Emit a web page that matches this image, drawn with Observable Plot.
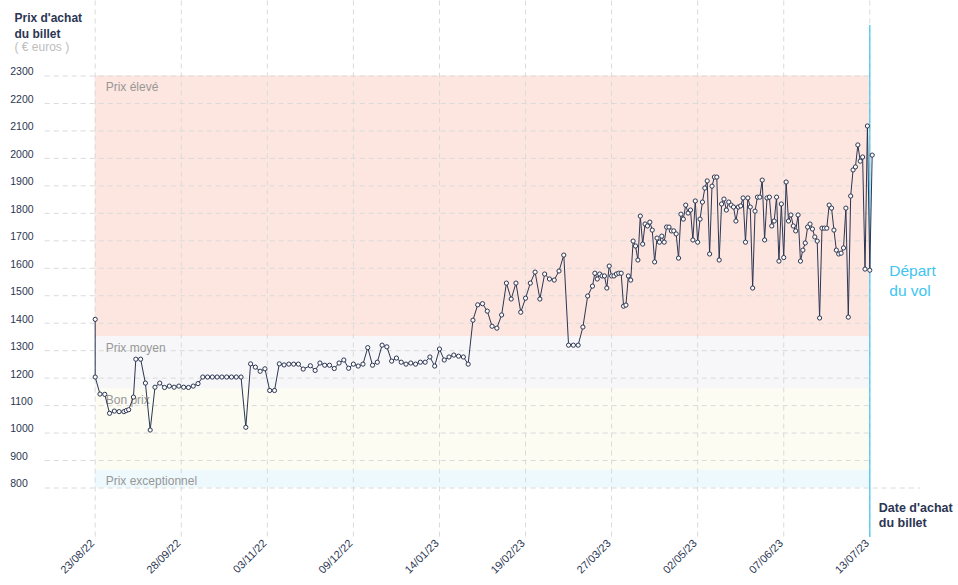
<!DOCTYPE html>
<html><head><meta charset="utf-8">
<script src="https://cdn.jsdelivr.net/npm/d3@7"></script>
<script src="https://cdn.jsdelivr.net/npm/@observablehq/plot@0.6"></script>
<style>body{margin:0;background:#fff;} svg{display:block;}</style>
</head><body><div id="chart"></div>
<script>
// Dates d'achat (achats relevés) et prix observés
const dates = [
"2022-08-23","2022-08-23","2022-08-25","2022-08-27","2022-08-29","2022-08-31",
"2022-09-02","2022-09-04","2022-09-05","2022-09-06","2022-09-08","2022-09-09","2022-09-11","2022-09-13","2022-09-15","2022-09-17","2022-09-19","2022-09-21","2022-09-23","2022-09-25","2022-09-27","2022-09-29",
"2022-10-01","2022-10-03","2022-10-05","2022-10-07","2022-10-09","2022-10-11","2022-10-13","2022-10-15","2022-10-17","2022-10-19","2022-10-21","2022-10-23","2022-10-25","2022-10-27","2022-10-29","2022-10-31",
"2022-11-02","2022-11-04","2022-11-06","2022-11-08","2022-11-10","2022-11-12","2022-11-14","2022-11-16","2022-11-18",
"2022-11-21","2022-11-23","2022-11-25","2022-11-27","2022-11-29",
"2022-12-01","2022-12-03","2022-12-05","2022-12-07","2022-12-09","2022-12-11","2022-12-13","2022-12-15","2022-12-17","2022-12-19","2022-12-21","2022-12-23","2022-12-25","2022-12-27","2022-12-29","2022-12-31",
"2023-01-02","2023-01-04","2023-01-06","2023-01-08","2023-01-10","2023-01-12","2023-01-14","2023-01-16","2023-01-18","2023-01-20","2023-01-22","2023-01-24","2023-01-26","2023-01-28","2023-01-30",
"2023-02-01","2023-02-03","2023-02-05","2023-02-07","2023-02-09","2023-02-11","2023-02-13","2023-02-15","2023-02-17","2023-02-19","2023-02-21","2023-02-23","2023-02-25","2023-02-27",
"2023-03-01","2023-03-03","2023-03-05","2023-03-07","2023-03-09","2023-03-11","2023-03-13","2023-03-15","2023-03-17","2023-03-19",
"2023-03-20","2023-03-21","2023-03-22","2023-03-23","2023-03-24","2023-03-25","2023-03-26","2023-03-27","2023-03-28","2023-03-29","2023-03-30","2023-03-31",
"2023-04-01","2023-04-02","2023-04-03","2023-04-04","2023-04-05","2023-04-06","2023-04-07","2023-04-08","2023-04-09","2023-04-10","2023-04-11","2023-04-12","2023-04-13","2023-04-14","2023-04-15","2023-04-16","2023-04-17","2023-04-18","2023-04-19","2023-04-20","2023-04-21","2023-04-22","2023-04-23","2023-04-24","2023-04-25","2023-04-26","2023-04-27","2023-04-28","2023-04-29","2023-04-30",
"2023-05-01","2023-05-02","2023-05-03","2023-05-04","2023-05-05","2023-05-06","2023-05-07","2023-05-08","2023-05-09","2023-05-10","2023-05-11","2023-05-12","2023-05-13","2023-05-14","2023-05-15","2023-05-16","2023-05-17","2023-05-18","2023-05-19","2023-05-20","2023-05-21","2023-05-22","2023-05-23","2023-05-24","2023-05-25","2023-05-26","2023-05-27","2023-05-28","2023-05-29","2023-05-30","2023-05-31",
"2023-06-01","2023-06-02","2023-06-03","2023-06-04","2023-06-05","2023-06-06","2023-06-07","2023-06-08","2023-06-09","2023-06-10","2023-06-11","2023-06-12","2023-06-13","2023-06-14","2023-06-15","2023-06-16","2023-06-17","2023-06-18","2023-06-19","2023-06-20","2023-06-21","2023-06-22","2023-06-23","2023-06-24","2023-06-25","2023-06-26","2023-06-27","2023-06-28","2023-06-29","2023-06-30",
"2023-07-01","2023-07-02","2023-07-03","2023-07-04","2023-07-05","2023-07-06","2023-07-07","2023-07-08","2023-07-09","2023-07-10","2023-07-11","2023-07-12","2023-07-13","2023-07-14"
];
const prix = [
1414,1204,1142,1141,1072,1080,
1078,1078,1082,1085,1131,1269,1269,1182,1011,1167,1182,1166,1171,1167,1171,1167,
1166,1171,1180,1204,1204,1204,1204,1204,1204,1204,1204,1204,1021,1252,1240,1225,
1234,1155,1155,1252,1248,1251,1251,1251,1233,
1245,1228,1255,1247,1247,
1235,1255,1266,1236,1251,1244,1251,1311,1247,1258,1320,1314,1262,1273,1258,1251,
1255,1251,1258,1258,1277,1244,1306,1266,1277,1284,1280,1277,1251,1411,1467,
1471,1444,1389,1382,1430,1546,1488,1546,1440,1491,1546,1586,1488,1579,
1561,1557,1590,1648,1320,1320,1320,1386,1499,1535,
1582,1561,1579,1572,1572,1528,1608,1572,1572,1579,1582,1582,
1462,1466,1572,1557,1699,1681,1630,1790,1688,1761,1754,1768,1739,1623,1710,1695,1717,1695,1750,1750,1736,1736,1725,1637,1797,1779,1830,1801,1812,1703,
1845,1695,1779,1841,1892,1918,1652,1899,1932,1932,1630,1834,1852,1812,1841,1830,1823,1772,1823,1827,1856,1695,1856,1823,1528,1808,1859,1859,1921,1703,1856,
1859,1754,1772,1859,1626,1834,1639,1914,1772,1794,1754,1736,1794,1626,1666,1692,1750,1761,1743,1714,1699,1419,1746,1746,1746,1830,1819,1739,1666,1652,
1655,1674,1819,1422,1863,1958,1969,2049,1990,2005,1597,2118,1593,2012
];
const xTicks = ["2022-08-23","2022-09-28","2022-11-03","2022-12-09","2023-01-14","2023-02-19","2023-03-27","2023-05-02","2023-06-07","2023-07-13"];
const yTicks = [800,900,1000,1100,1200,1300,1400,1500,1600,1700,1800,1900,2000,2100,2200,2300];
const bandNames = ["Prix élevé","Prix moyen","Bon prix","Prix exceptionnel"];
const bandLow = [1350,1160,865,800];
const bandHigh = [2300,1350,1160,865];
const bandColors = ["#fde6e0","#f7f7f9","#fcfcf3","#eef9fd"];
const debut = "2022-08-23";
const depart = "2023-07-13";

const parse = d3.utcParse("%Y-%m-%d");
const fmt = d3.utcFormat("%d/%m/%y");
const data = dates.map((d, i) => ({date: parse(d), prix: prix[i]}));
const bands = bandNames.map((n, i) => ({name: n, low: bandLow[i], high: bandHigh[i], color: bandColors[i]}));
const d0 = parse(debut), d1 = parse(depart);
const tickDates = xTicks.map(parse);
const ink = "#2c3652";
const cyan = "#3ec5ef";
const yMin = yTicks[0];

const chart = Plot.plot({
  width: 958, height: 585,
  marginLeft: 94.7, marginRight: 88.7, marginTop: 75.5, marginBottom: 97.5,
  x: {type: "utc", domain: [d0, d1], axis: null},
  y: {domain: [800, 2300], axis: null},
  color: {type: "identity"},
  style: {fontFamily: "'Liberation Sans', Arial, sans-serif", background: "#fff", overflow: "visible"},
  marks: [
    Plot.rect(bands, {x1: () => d0, x2: () => d1, y1: "low", y2: "high", fill: "color"}),
    Plot.ruleY(yTicks.filter(v => v !== yMin), {y: d => d, stroke: "#dadada", strokeDasharray: "5,4", insetLeft: -50}),
    Plot.ruleY([yMin], {y: d => d, stroke: "#dadada", strokeDasharray: "5,4", insetLeft: -50, insetRight: -51}),
    Plot.ruleX(tickDates, {x: d => d, stroke: "#dadada", strokeDasharray: "5,4", insetTop: -75, insetBottom: -49.5}),
    Plot.ruleX([d1], {x: d => d, stroke: cyan, strokeWidth: 1.2, insetTop: -50.5, insetBottom: -49.5}),
    Plot.text(bands, {x: () => d0, y: "high", text: "name", textAnchor: "start", dx: 10.5, dy: 11, fill: "#979797", fontSize: 12}),
    Plot.line(data, {x: "date", y: "prix", stroke: ink, strokeWidth: 1}),
    Plot.dot(data, {x: "date", y: "prix", r: 2.1, fill: "#fff", stroke: ink, strokeWidth: 1}),
    Plot.text(yTicks, {y: d => d, text: d => String(d), frameAnchor: "left", textAnchor: "start", dx: -85, dy: -4, fill: ink, fontSize: 10.5}),
    Plot.text(tickDates, {x: d => d, text: d => fmt(d), frameAnchor: "bottom", rotate: -45, textAnchor: "end", dy: 56, fill: ink, fontSize: 11}),
    Plot.text(["Prix d'achat"], {text: d => d, frameAnchor: "top-left", textAnchor: "start", lineAnchor: "middle", dx: 14 - 94.7, dy: 18 - 75.5, fill: ink, fontSize: 12, fontWeight: "bold"}),
    Plot.text(["du billet"], {text: d => d, frameAnchor: "top-left", textAnchor: "start", lineAnchor: "middle", dx: 14 - 94.7, dy: 34 - 75.5, fill: ink, fontSize: 12, fontWeight: "bold"}),
    Plot.text(["( € euros )"], {text: d => d, frameAnchor: "top-left", textAnchor: "start", lineAnchor: "middle", dx: 14 - 94.7, dy: 47 - 75.5, fill: "#bdbdbd", fontSize: 12}),
    Plot.text(["Date d'achat"], {x: () => d1, text: d => d, frameAnchor: "bottom", textAnchor: "start", lineAnchor: "middle", dx: 9, dy: 19.5, fill: ink, fontSize: 12.5, fontWeight: "bold"}),
    Plot.text(["du billet"], {x: () => d1, text: d => d, frameAnchor: "bottom", textAnchor: "start", lineAnchor: "middle", dx: 9, dy: 34.5, fill: ink, fontSize: 12.5, fontWeight: "bold"}),
    Plot.text(["Départ"], {x: () => d1, text: d => d, frameAnchor: "top", textAnchor: "start", lineAnchor: "middle", dx: 19.5, dy: 195, fill: cyan, fontSize: 15.5}),
    Plot.text(["du vol"], {x: () => d1, text: d => d, frameAnchor: "top", textAnchor: "start", lineAnchor: "middle", dx: 19.5, dy: 215, fill: cyan, fontSize: 15.5})
  ]
});
document.getElementById("chart").appendChild(chart);
</script>
</body></html>
